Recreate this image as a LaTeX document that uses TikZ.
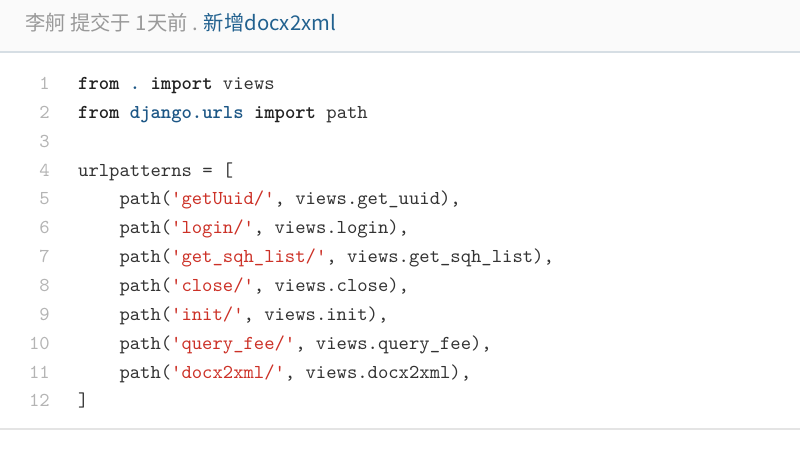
\documentclass[tikz,border=0pt]{standalone}
\usepackage{fontspec}
\usepackage{tikz}
\usetikzlibrary{positioning}
\setmonofont{lmmono10-regular.otf}[BoldFont=lmmonolt10-bold.otf]
\newfontfamily\cjk{Noto Sans CJK SC}
\definecolor{headbg}{HTML}{FAFAFA}
\definecolor{headrule}{HTML}{D6DEE4}
\definecolor{footrule}{HTML}{E4E4E4}
\definecolor{metagray}{HTML}{999999}
\definecolor{msgblue}{HTML}{22618F}
\definecolor{codegray}{HTML}{333333}
\definecolor{kwdark}{HTML}{222222}
\definecolor{modblue}{HTML}{1D5786}
\definecolor{strred}{HTML}{CC3127}
\definecolor{numgray}{HTML}{B4B4B4}
\newcommand{\codefont}{\ttfamily\fontsize{19.7}{24}\selectfont}
\newcommand{\kw}[1]{\textbf{\textcolor{kwdark}{#1}}}
\newcommand{\modname}[1]{\textbf{\textcolor{modblue}{#1}}}
\newcommand{\strlit}[1]{\textcolor{strred}{\textquotesingle#1/\textquotesingle}}

\begin{document}
\begin{tikzpicture}[x=1pt, y=-1pt,
  codeline/.style={anchor=base west, inner sep=0pt, font=\codefont,
                   text=codegray},
  lineno/.style={anchor=base east, inner sep=0pt, font=\codefont,
                 text=numgray},
  meta/.style={anchor=base west, inner sep=0pt,
               font=\cjk\fontsize{20.3}{24}\selectfont}
]
\useasboundingbox (0,0) rectangle (800,457);
% header bar
\fill[headbg] (0,0) rectangle (800,52);
\draw[headrule, line width=1.5pt] (0,52) -- (800,52);
\node[meta] (commit) at (25,30.5)
  {\textcolor{metagray}{李舸 提交于 1天前 .} \textcolor{msgblue}{新增docx2xml}};
% line numbers
\foreach \n in {1,...,12}
  \node[lineno] (num\n) at (50,{89.5+(\n-1)*28.85}) {\n};
% code
\node[codeline] (c1) at (78,89.50) {\kw{from} \modname{.} \kw{import} views};
\node[codeline] (c2) at (78,118.35) {\kw{from} \modname{django.urls} \kw{import} path};
\node[codeline] (c4) at (78,176.05) {urlpatterns = [};
\node[codeline] (c5) at (119.3,204.90) {path(\strlit{getUuid}, views.get\_uuid),};
\node[codeline] (c6) at (119.3,233.75) {path(\strlit{login}, views.login),};
\node[codeline] (c7) at (119.3,262.60) {path(\strlit{get\_sqh\_list}, views.get\_sqh\_list),};
\node[codeline] (c8) at (119.3,291.45) {path(\strlit{close}, views.close),};
\node[codeline] (c9) at (119.3,320.30) {path(\strlit{init}, views.init),};
\node[codeline] (c10) at (119.3,349.15) {path(\strlit{query\_fee}, views.query\_fee),};
\node[codeline] (c11) at (119.3,378.00) {path(\strlit{docx2xml}, views.docx2xml),};
\node[codeline] (c12) at (78,406.85) {]};
% bottom rule
\draw[footrule, line width=2pt] (0,429) -- (800,429);
\end{tikzpicture}
\end{document}
